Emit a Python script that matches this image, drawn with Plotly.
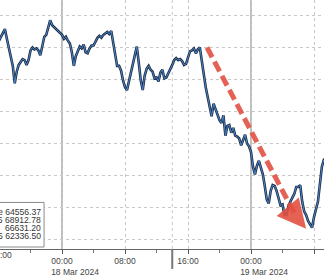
import pandas as pd
import plotly.graph_objects as go

# 15-minute price series (BTC/USD), Mar 17 16:00 -> Mar 19 09:30
start_time = "2024-03-17 16:00"
step = "15min"
prices = [
    68212, 68334, 68455, 68576, 68273, 67970, 67667, 67425, 66879, 67243,
    67455, 67546, 67637, 67606, 67455, 67606, 67909, 68000, 67940, 67970,
    67909, 67758, 68061, 68334, 68394, 68606, 68849, 68697, 68637, 68606,
    68515, 68485, 68394, 68273, 68334, 68212, 68121, 67849, 67425, 67728,
    67909, 68030, 67970, 68091, 67849, 67818, 67970, 68061, 68061, 68182,
    68303, 68364, 68303, 68394, 68455, 68485, 68424, 68515, 68152, 67728,
    67425, 67425, 67273, 66970, 66758, 66667, 66940, 67213, 67485, 67849,
    68030, 67516, 66970, 66667, 67122, 67334, 67425, 67303, 67243, 67031,
    67061, 66940, 67213, 67303, 67031, 67061, 67182, 67334, 67455, 67606,
    67667, 67606, 67637, 67576, 67455, 67485, 67728, 67879, 67909, 67970,
    67818, 67940, 68000, 67546, 67122, 66758, 66455, 66091, 65849, 66243,
    66061, 65940, 65728, 65637, 65879, 65243, 65546, 65576, 65334, 65485,
    65243, 65212, 65152, 64940, 65091, 65273, 64999, 64910, 64727, 64273,
    64031, 64304, 64455, 64273, 64031, 63667, 63243, 63122, 63516, 63697,
    63667, 63516, 63273, 63061, 63092, 62759, 62759, 63031, 63182, 63303,
    63425, 63637, 63637, 63697, 63182, 62879, 62759, 62576, 62485, 62364,
    62697, 62910, 63182, 63728, 64273, 64485, 64556,
]
times = pd.date_range(start_time, periods=len(prices), freq=step)

PAD = "\u00a0" * 11  # pushes the centred date line to the right, as in the original
tick_vals = ["2024-03-18 00:00", "2024-03-18 08:00",
             "2024-03-18 16:00", "2024-03-19 00:00", "2024-03-19 08:00"]
tick_text = ["00:00<br>" + PAD + "18 Mar 2024", "08:00",
             "16:00", "00:00<br>" + PAD + "19 Mar 2024", "08:00"]
day_lines = ["2024-03-18 00:00", "2024-03-19 00:00"]
session_line = "2024-03-18 14:00"

# legend rows as visible in the (cropped) chart
legend_labels = ["e", "35", "", "5"]
legend_values = ["64556.37", "68912.78", "66631.20", "62336.50"]

arrow_start = ("2024-03-18 18:25", 68000)
arrow_end = ("2024-03-19 05:45", 62700)
arrow_tip = ("2024-03-19 07:00", 62330)

x_range = ["2024-03-17 16:07:37", "2024-03-19 09:16:11"]
y_range = [61698, 69485]

fig = go.Figure()
fig.add_trace(go.Scatter(x=times, y=prices, mode="lines",
                         line=dict(color="#1d2c45", width=2.6), hoverinfo="skip"))
fig.add_trace(go.Scatter(x=times, y=prices, mode="lines",
                         line=dict(color="#4a85c8", width=1.0), hoverinfo="skip"))

for d in day_lines:
    fig.add_shape(type="line", x0=d, x1=d, xref="x", yref="paper", y0=0, y1=1,
                  line=dict(color="#a8a8a8", width=1.5), layer="below")
fig.add_shape(type="line", x0=session_line, x1=session_line, xref="x", yref="paper",
              y0=-0.08, y1=0, line=dict(color="#777777", width=2))
fig.add_shape(type="line", x0=session_line, x1=session_line, xref="x", yref="paper",
              y0=0, y1=1, line=dict(color="#c8c8c8", width=1, dash="dot"), layer="below")

# red dashed arrow
red = "rgba(226,80,66,0.9)"
fig.add_shape(type="line", x0=arrow_start[0], y0=arrow_start[1], x1=arrow_end[0], y1=arrow_end[1],
              xref="x", yref="y", line=dict(color=red, width=5, dash="11px,5px"))
fig.add_annotation(x=arrow_tip[0], y=arrow_tip[1], ax=arrow_end[0], ay=arrow_end[1],
                   xref="x", yref="y", axref="x", ayref="y", text="", showarrow=True,
                   arrowhead=2, arrowsize=1.15, arrowwidth=5, arrowcolor=red)

# cropped 16:00 label on left edge
fig.add_annotation(x=0, y=-0.024, xref="paper", yref="paper", text=":00", showarrow=False,
                   xanchor="left", yanchor="middle", xshift=-2, font=dict(size=8.5, color="#444"))

# legend box (partially cropped)
fig.add_shape(type="rect", xref="paper", yref="paper", x0=-0.3, x1=0.136, y0=0.008, y1=0.187,
              line=dict(color="#8a8a8a", width=1), fillcolor="white")
row_y = [0.1498, 0.1167, 0.0837, 0.0506]
for lab, val, yy in zip(legend_labels, legend_values, row_y):
    txt = (lab + " " + val) if lab else val
    fig.add_annotation(x=0.1327, y=yy, xref="paper", yref="paper", text=txt, showarrow=False,
                       xanchor="right", yanchor="middle", font=dict(size=8.6, color="#333"))

fig.update_layout(
    width=324, height=277, margin=dict(l=0, r=0, t=0, b=20),
    paper_bgcolor="white", plot_bgcolor="white", showlegend=False,
    font=dict(family="Liberation Sans, Arial, sans-serif", size=9, color="#444"),
)
fig.update_xaxes(range=x_range, tickvals=tick_vals, ticktext=tick_text,
                 showgrid=True, gridcolor="#c8c8c8", griddash="dot", gridwidth=1,
                 showline=True, linecolor="#666", linewidth=1,
                 ticks="outside", ticklen=4, tickcolor="#555",
                 minor=dict(dtick=4 * 3600 * 1000, tick0="2024-03-18", ticks="outside",
                            ticklen=3, tickcolor="#777", showgrid=False),
                 tickfont=dict(size=8.5, color="#444"), zeroline=False)
fig.update_yaxes(range=y_range, dtick=1000, tick0=0, showticklabels=False,
                 showgrid=True, gridcolor="#c8c8c8", griddash="dot", gridwidth=1,
                 zeroline=False, showline=False)

fig.write_html("out.html")
